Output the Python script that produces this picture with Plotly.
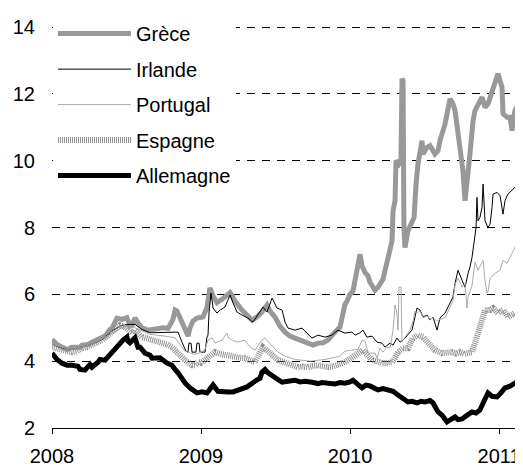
import plotly.graph_objects as go

# Decimal-year dates and 10-year yields (%)
greece_t = [2008.000, 2008.034, 2008.067, 2008.101, 2008.134, 2008.188, 2008.201, 2008.242, 2008.268, 2008.309,
            2008.336, 2008.356, 2008.389, 2008.403, 2008.436, 2008.470, 2008.503, 2008.523, 2008.537, 2008.557,
            2008.577, 2008.604, 2008.644, 2008.671, 2008.711, 2008.745, 2008.779, 2008.792, 2008.812, 2008.826,
            2008.839, 2008.859, 2008.879, 2008.893, 2008.913, 2008.926, 2008.946, 2008.973, 2008.993, 2009.013,
            2009.040, 2009.060, 2009.081, 2009.107, 2009.141, 2009.174, 2009.195, 2009.228, 2009.262, 2009.275,
            2009.315, 2009.342, 2009.369, 2009.409, 2009.443, 2009.463, 2009.497, 2009.530, 2009.564, 2009.597,
            2009.631, 2009.678, 2009.718, 2009.752, 2009.785, 2009.819, 2009.852, 2009.866, 2009.899, 2009.933,
            2009.946, 2009.966, 2009.980, 2010.000, 2010.020, 2010.040, 2010.067, 2010.081, 2010.101, 2010.121,
            2010.134, 2010.168, 2010.188, 2010.221, 2010.248, 2010.268, 2010.282, 2010.289, 2010.302, 2010.309,
            2010.329, 2010.342, 2010.349, 2010.356, 2010.362, 2010.369, 2010.389, 2010.416, 2010.430, 2010.443,
            2010.456, 2010.483, 2010.490, 2010.517, 2010.537, 2010.570, 2010.591, 2010.604, 2010.638, 2010.671,
            2010.691, 2010.705, 2010.725, 2010.752, 2010.758, 2010.772, 2010.792, 2010.805, 2010.826, 2010.839,
            2010.886, 2010.906, 2010.926, 2010.960, 2010.993, 2011.020, 2011.027, 2011.054, 2011.074, 2011.087,
            2011.107, 2011.141, 2011.154]
greece_v = [4.65, 4.50, 4.42, 4.35, 4.42, 4.42, 4.48, 4.50, 4.57, 4.65,
            4.69, 4.75, 4.95, 4.99, 5.29, 5.25, 5.30, 5.05, 5.08, 5.29,
            5.15, 5.00, 4.93, 4.95, 4.99, 5.00, 4.98, 5.10, 5.25, 5.53,
            5.50, 5.30, 5.10, 5.00, 4.75, 5.00, 5.20, 5.29, 5.30, 5.32,
            5.60, 6.19, 5.95, 5.75, 5.85, 6.00, 6.05, 5.80, 5.60, 5.53,
            5.35, 5.23, 5.30, 5.47, 5.68, 5.50, 5.32, 5.05, 4.87, 4.75,
            4.69, 4.60, 4.55, 4.48, 4.54, 4.55, 4.63, 4.72, 4.87, 5.02,
            5.29, 5.70, 5.80, 6.00, 6.10, 6.60, 7.20, 6.85, 6.65, 6.55,
            6.36, 6.12, 6.21, 6.45, 7.00, 7.40, 7.60, 8.50, 8.80, 10.00,
            9.90, 10.00, 12.45, 12.40, 8.00, 7.40, 7.90, 8.20, 8.30, 9.30,
            9.90, 10.60, 10.20, 10.40, 10.45, 10.20, 10.30, 10.60, 11.10, 11.85,
            11.70, 11.50, 10.90, 10.00, 9.70, 8.80, 9.50, 10.20, 11.20, 11.50,
            11.90, 11.60, 11.70, 12.20, 12.60, 12.20, 11.40, 11.30, 11.30, 10.90,
            11.50, 11.80, 12.00]

ireland_t = [2008.000, 2008.067, 2008.134, 2008.201, 2008.268, 2008.336, 2008.403, 2008.456, 2008.503, 2008.557,
             2008.604, 2008.658, 2008.725, 2008.779, 2008.826, 2008.846, 2008.872, 2008.899, 2008.913, 2008.919,
             2008.933, 2008.940, 2008.966, 2008.973, 2008.987, 2008.993, 2009.027, 2009.040, 2009.047, 2009.054,
             2009.067, 2009.081, 2009.107, 2009.128, 2009.161, 2009.195, 2009.215, 2009.242, 2009.275, 2009.315,
             2009.349, 2009.383, 2009.416, 2009.443, 2009.463, 2009.477, 2009.510, 2009.544, 2009.564, 2009.584,
             2009.631, 2009.678, 2009.711, 2009.745, 2009.785, 2009.832, 2009.879, 2009.919, 2009.966, 2010.013,
             2010.034, 2010.067, 2010.087, 2010.114, 2010.148, 2010.181, 2010.215, 2010.235, 2010.268, 2010.289,
             2010.315, 2010.336, 2010.356, 2010.383, 2010.416, 2010.436, 2010.450, 2010.470, 2010.490, 2010.517,
             2010.537, 2010.557, 2010.584, 2010.604, 2010.638, 2010.671, 2010.691, 2010.705, 2010.725, 2010.752,
             2010.772, 2010.792, 2010.805, 2010.819, 2010.826, 2010.839, 2010.846, 2010.852, 2010.859, 2010.872,
             2010.886, 2010.893, 2010.906, 2010.926, 2010.940, 2010.953, 2010.960, 2010.987, 2011.007, 2011.027,
             2011.040, 2011.060, 2011.087, 2011.107, 2011.128, 2011.154]
ireland_v = [4.50, 4.40, 4.35, 4.42, 4.50, 4.65, 4.90, 5.05, 5.10, 5.10,
             4.95, 4.85, 4.85, 4.85, 4.87, 4.87, 4.57, 4.30, 4.27, 4.54,
             4.54, 4.27, 4.27, 4.54, 4.54, 4.27, 4.27, 4.72, 4.78, 5.47,
             6.04, 5.59, 5.44, 5.53, 5.62, 5.98, 5.74, 5.47, 5.38, 5.29,
             5.17, 5.38, 5.62, 5.47, 5.74, 5.89, 5.59, 5.53, 5.17, 4.99,
             4.93, 4.99, 4.84, 4.69, 4.78, 4.72, 4.78, 4.93, 4.84, 4.87,
             4.78, 4.85, 4.93, 4.72, 4.75, 4.57, 4.54, 4.42, 4.54, 4.48,
             4.69, 4.57, 4.63, 4.78, 4.93, 5.32, 5.59, 5.53, 5.32, 5.38,
             5.23, 5.32, 4.93, 5.29, 5.44, 5.74, 5.92, 6.33, 6.72, 6.42,
             6.21, 6.63, 6.81, 7.11, 7.32, 7.71, 8.00, 8.90, 8.20, 8.30,
             8.60, 9.30, 8.20, 8.00, 8.10, 8.60, 9.00, 9.05, 8.95, 8.40,
             8.80, 9.00, 9.10, 9.20, 9.30, 9.40]

portugal_t = [2008.000, 2008.134, 2008.268, 2008.403, 2008.490, 2008.557, 2008.658, 2008.758, 2008.826, 2008.893,
              2008.960, 2008.993, 2009.027, 2009.047, 2009.074, 2009.094, 2009.141, 2009.174, 2009.181, 2009.208,
              2009.248, 2009.295, 2009.329, 2009.362, 2009.409, 2009.430, 2009.477, 2009.517, 2009.564, 2009.631,
              2009.732, 2009.832, 2009.933, 2009.966, 2010.013, 2010.054, 2010.081, 2010.101, 2010.121, 2010.168,
              2010.181, 2010.201, 2010.221, 2010.248, 2010.268, 2010.289, 2010.302, 2010.315, 2010.322, 2010.329,
              2010.342, 2010.349, 2010.369, 2010.403, 2010.423, 2010.436, 2010.450, 2010.470, 2010.490, 2010.517,
              2010.537, 2010.557, 2010.584, 2010.604, 2010.638, 2010.671, 2010.691, 2010.705, 2010.725, 2010.752,
              2010.772, 2010.785, 2010.792, 2010.819, 2010.839, 2010.859, 2010.886, 2010.893, 2010.906, 2010.919,
              2010.926, 2010.940, 2010.973, 2011.007, 2011.027, 2011.054, 2011.087, 2011.121, 2011.141, 2011.154]
portugal_v = [4.50, 4.35, 4.50, 4.85, 5.05, 5.00, 4.80, 4.75, 4.70, 4.30,
              4.20, 4.25, 4.35, 4.63, 4.70, 4.54, 4.63, 4.84, 4.72, 4.63,
              4.57, 4.63, 4.42, 4.33, 4.63, 4.69, 4.48, 4.27, 4.15, 4.05,
              4.00, 4.05, 4.15, 4.30, 4.33, 4.35, 4.63, 4.60, 4.24, 4.24,
              4.09, 4.39, 4.27, 4.42, 4.39, 4.93, 5.68, 5.44, 4.93, 6.22,
              6.22, 4.57, 4.72, 4.93, 5.20, 5.50, 5.45, 5.50, 5.30, 5.35,
              5.25, 5.30, 5.20, 5.25, 5.30, 5.60, 5.80, 6.30, 6.48, 6.21,
              6.33, 5.59, 5.92, 6.27, 6.96, 6.72, 6.96, 7.02, 6.42, 6.04,
              6.07, 6.48, 6.63, 6.72, 7.02, 6.93, 7.23, 7.53, 7.47, 7.47]

spain_t = [2008.000, 2008.034, 2008.067, 2008.101, 2008.134, 2008.168, 2008.201, 2008.235, 2008.268, 2008.302,
           2008.336, 2008.369, 2008.403, 2008.430, 2008.456, 2008.490, 2008.510, 2008.537, 2008.557, 2008.577,
           2008.604, 2008.638, 2008.671, 2008.705, 2008.738, 2008.772, 2008.805, 2008.846, 2008.872, 2008.893,
           2008.913, 2008.940, 2008.960, 2008.980, 2009.000, 2009.027, 2009.060, 2009.094, 2009.128, 2009.161,
           2009.195, 2009.228, 2009.262, 2009.295, 2009.329, 2009.362, 2009.389, 2009.416, 2009.436, 2009.463,
           2009.490, 2009.517, 2009.550, 2009.584, 2009.617, 2009.651, 2009.685, 2009.718, 2009.752, 2009.785,
           2009.819, 2009.852, 2009.886, 2009.919, 2009.953, 2009.987, 2010.013, 2010.034, 2010.060, 2010.087,
           2010.114, 2010.148, 2010.181, 2010.215, 2010.248, 2010.282, 2010.302, 2010.322, 2010.356, 2010.389,
           2010.423, 2010.456, 2010.490, 2010.523, 2010.550, 2010.570, 2010.617, 2010.651, 2010.685, 2010.711,
           2010.738, 2010.765, 2010.785, 2010.819, 2010.839, 2010.859, 2010.886, 2010.906, 2010.940, 2010.960,
           2010.993, 2011.027, 2011.060, 2011.087, 2011.107, 2011.128, 2011.154]
spain_v = [4.42, 4.38, 4.33, 4.30, 4.27, 4.30, 4.39, 4.42, 4.48, 4.55,
           4.63, 4.75, 4.87, 4.98, 5.08, 5.02, 4.95, 4.84, 4.93, 4.85,
           4.72, 4.68, 4.63, 4.60, 4.57, 4.50, 4.42, 4.27, 4.12, 4.03,
           3.95, 3.88, 3.88, 3.97, 3.95, 4.03, 4.15, 4.27, 4.22, 4.18,
           4.15, 4.12, 4.10, 4.09, 4.02, 3.97, 4.20, 4.42, 4.35, 4.24,
           4.12, 4.03, 3.98, 3.94, 3.88, 3.82, 3.84, 3.82, 3.86, 3.88,
           3.85, 3.82, 3.84, 3.88, 3.95, 4.03, 4.10, 4.18, 4.25, 4.33,
           4.20, 4.03, 4.00, 3.94, 3.95, 3.97, 4.10, 4.27, 4.39, 4.39,
           4.69, 4.78, 4.72, 4.54, 4.40, 4.33, 4.24, 4.25, 4.27, 4.23,
           4.27, 4.22, 4.24, 4.27, 4.54, 4.84, 5.14, 5.53, 5.53, 5.59,
           5.44, 5.53, 5.32, 5.40, 5.44, 5.35, 5.38]

germany_t = [2008.000, 2008.034, 2008.067, 2008.101, 2008.134, 2008.174, 2008.188, 2008.221, 2008.255, 2008.268,
             2008.309, 2008.322, 2008.356, 2008.389, 2008.403, 2008.443, 2008.456, 2008.477, 2008.503, 2008.510,
             2008.523, 2008.544, 2008.557, 2008.577, 2008.591, 2008.624, 2008.658, 2008.671, 2008.725, 2008.772,
             2008.805, 2008.826, 2008.846, 2008.893, 2008.926, 2008.973, 2009.007, 2009.040, 2009.081, 2009.114,
             2009.148, 2009.181, 2009.215, 2009.262, 2009.295, 2009.309, 2009.362, 2009.396, 2009.409, 2009.430,
             2009.450, 2009.477, 2009.517, 2009.544, 2009.584, 2009.631, 2009.664, 2009.698, 2009.745, 2009.785,
             2009.812, 2009.852, 2009.899, 2009.933, 2009.966, 2010.000, 2010.020, 2010.054, 2010.081, 2010.107,
             2010.134, 2010.161, 2010.188, 2010.221, 2010.255, 2010.289, 2010.322, 2010.356, 2010.389, 2010.416,
             2010.450, 2010.477, 2010.503, 2010.537, 2010.557, 2010.591, 2010.617, 2010.651, 2010.671, 2010.705,
             2010.725, 2010.752, 2010.785, 2010.819, 2010.846, 2010.872, 2010.899, 2010.926, 2010.953, 2010.987,
             2011.013, 2011.040, 2011.074, 2011.107, 2011.128, 2011.154]
germany_v = [4.24, 4.05, 3.94, 3.88, 3.88, 3.85, 3.75, 3.73, 3.90, 3.82,
             3.97, 4.05, 4.03, 4.20, 4.24, 4.48, 4.54, 4.63, 4.72, 4.60,
             4.55, 4.65, 4.70, 4.42, 4.42, 4.24, 4.18, 4.09, 4.10, 3.94,
             3.88, 3.75, 3.65, 3.35, 3.20, 3.05, 3.08, 3.05, 3.29, 3.10,
             3.08, 3.08, 3.08, 3.15, 3.20, 3.23, 3.40, 3.49, 3.67, 3.75,
             3.65, 3.58, 3.45, 3.37, 3.40, 3.43, 3.38, 3.40, 3.37, 3.33,
             3.36, 3.34, 3.32, 3.36, 3.34, 3.38, 3.43, 3.30, 3.20, 3.28,
             3.26, 3.20, 3.14, 3.18, 3.14, 3.10, 2.99, 2.90, 2.78, 2.80,
             2.75, 2.80, 2.78, 2.82, 2.75, 2.48, 2.39, 2.18, 2.25, 2.33,
             2.25, 2.27, 2.38, 2.48, 2.45, 2.54, 2.80, 3.05, 2.95, 2.93,
             3.05, 3.20, 3.25, 3.34, 3.28, 3.20]

year_ticks = [2008, 2009, 2010, 2011]
year_labels = ["2008", "2009", "2010", "2011"]
y_ticks = [2, 4, 6, 8, 10, 12, 14]

FONT = "Liberation Sans, Arial, sans-serif"

fig = go.Figure()
series = [
    ("Grèce", greece_t, greece_v, dict(color="#999999", width=5)),
    ("Irlande", ireland_t, ireland_v, dict(color="#000000", width=1)),
    ("Portugal", portugal_t, portugal_v, dict(color="#aaaaaa", width=1)),
    ("Espagne", spain_t, spain_v, dict(color="#8f8f8f", width=6, dash="1px,1px")),
    ("Allemagne", germany_t, germany_v, dict(color="#000000", width=5)),
]
for name, t, v, line in series:
    fig.add_trace(go.Scatter(x=t, y=v, mode="lines", name=name, line=line,
                             legendgroup=name))

# the page body adds an 8px offset; figure is sized to fill the rest of the window
fig.update_layout(
    width=515, height=460,
    margin=dict(l=44, r=0, t=9, b=40, autoexpand=False),
    paper_bgcolor="white", plot_bgcolor="white",
    font=dict(family=FONT, size=20, color="#000000"),
    showlegend=True,
    legend=dict(x=0.002, y=1.007, xanchor="left", yanchor="top", bgcolor="white",
                font=dict(family=FONT, size=20, color="#000000"),
                itemwidth=73, tracegroupgap=6.5, traceorder="grouped",
                entrywidth=122, entrywidthmode="pixels"),
    xaxis=dict(range=[2008, 2011.161], tickmode="array", tickvals=year_ticks, ticktext=year_labels,
               ticks="outside", ticklen=5, tickcolor="#000000", showline=True, linecolor="#000000",
               linewidth=1, showgrid=False, zeroline=False, automargin=False,
               ticklabelstandoff=5,
               tickfont=dict(family=FONT, size=20, color="#000000")),
    yaxis=dict(range=[2, 14.3], tickmode="array", tickvals=y_ticks, showgrid=True, gridcolor="#000000",
               gridwidth=1, griddash="8px,7px", showline=False, zeroline=False, ticks="",
               ticklabelstandoff=16, automargin=False,
               tickfont=dict(family=FONT, size=20, color="#000000")),
)

fig.write_html("out.html")
